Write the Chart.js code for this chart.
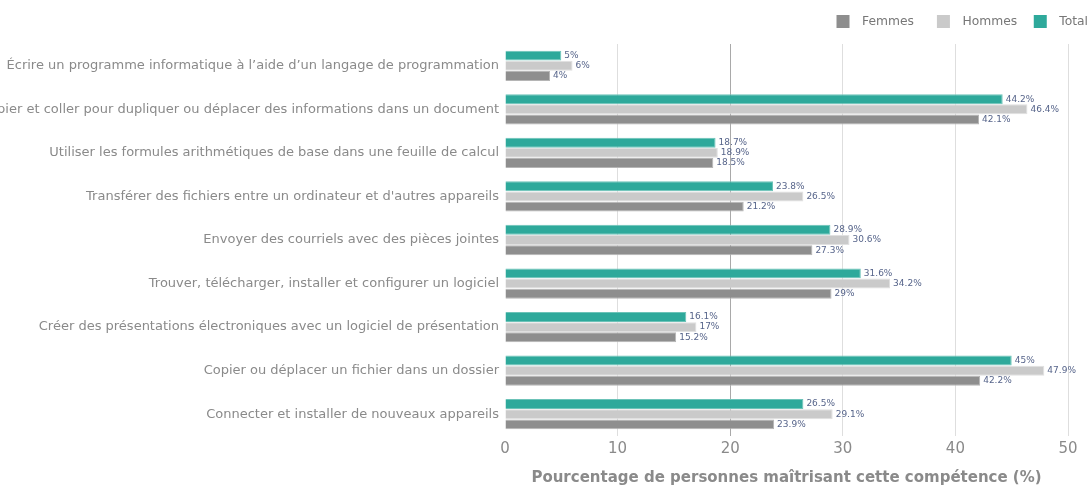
<!DOCTYPE html>
<html>
<head>
<meta charset="utf-8">
<script src="https://cdn.jsdelivr.net/npm/chart.js@4/dist/chart.umd.min.js"></script>
<style>
  html, body { margin: 0; padding: 0; background: #fff; }
  #wrap { width: 1089px; height: 487px; }
</style>
</head>
<body>
<div id="wrap"><canvas id="chart"></canvas></div>
<script>
// compétences (axe des catégories)
const skills = [
  "Écrire un programme informatique à l’aide d’un langage de programmation",
  "Copier et coller pour dupliquer ou déplacer des informations dans un document",
  "Utiliser les formules arithmétiques de base dans une feuille de calcul",
  "Transférer des fichiers entre un ordinateur et d'autres appareils",
  "Envoyer des courriels avec des pièces jointes",
  "Trouver, télécharger, installer et configurer un logiciel",
  "Créer des présentations électroniques avec un logiciel de présentation",
  "Copier ou déplacer un fichier dans un dossier",
  "Connecter et installer de nouveaux appareils"
];

// pourcentages par série
const total  = [5, 44.2, 18.7, 23.8, 28.9, 31.6, 16.1, 45, 26.5];
const hommes = [6, 46.4, 18.9, 26.5, 30.6, 34.2, 17, 47.9, 29.1];
const femmes = [4, 42.1, 18.5, 21.2, 27.3, 29, 15.2, 42.2, 23.9];

const xTicks = [0, 10, 20, 30, 40, 50];

Chart.defaults.font.family = "'DejaVu Sans', Verdana, sans-serif";

// étiquettes de valeur au bout des barres
const valueLabels = {
  id: 'valueLabels',
  afterDatasetsDraw(chart) {
    const ctx = chart.ctx;
    ctx.save();
    ctx.font = "9px 'DejaVu Sans', sans-serif";
    ctx.fillStyle = '#56648a';
    ctx.textBaseline = 'middle';
    ctx.textAlign = 'left';
    chart.data.datasets.forEach((ds, i) => {
      chart.getDatasetMeta(i).data.forEach((bar, j) => {
        ctx.fillText(ds.data[j] + '%', bar.x + 3, bar.y);
      });
    });
    ctx.restore();
  }
};

// un peu d'espace sous la légende
const legendGap = {
  id: 'legendGap',
  beforeInit(chart) {
    const fit = chart.legend.fit;
    chart.legend.fit = function () {
      fit.bind(chart.legend)();
      this.height += 6;
    };
  }
};

// espaces autour des textes de légende
const legendTrail = { Femmes: '     \u2009', Hommes: '    ', Total: '' };

new Chart(document.getElementById('chart'), {
  type: 'bar',
  data: {
    labels: skills,
    datasets: [
      { label: 'Total',  data: total,  backgroundColor: '#2ea99b', borderColor: '#6cc3b8' },
      { label: 'Hommes', data: hommes, backgroundColor: '#cacaca', borderColor: '#e0e0e0' },
      { label: 'Femmes', data: femmes, backgroundColor: '#8e8e8e', borderColor: '#b5b5b5' }
    ]
  },
  options: {
    indexAxis: 'y',
    responsive: true,
    maintainAspectRatio: false,
    animation: false,
    layout: { padding: { top: 14, right: 0, bottom: 0 } },
    datasets: {
      bar: { categoryPercentage: 0.7, barPercentage: 0.98, borderWidth: 1 }
    },
    plugins: {
      legend: {
        position: 'top',
        align: 'end',
        reverse: true,
        labels: {
          boxWidth: 13, boxHeight: 13, padding: 1,
          color: '#777', font: { size: 12.3 },
          generateLabels: chart => Chart.defaults.plugins.legend.labels
            .generateLabels(chart)
            .map(l => ({ ...l, text: ' \u2009' + l.text + legendTrail[l.text], lineWidth: 0 }))
        }
      },
      tooltip: { enabled: false }
    },
    scales: {
      x: {
        min: 0, max: 50,
        afterBuildTicks: s => { s.ticks = xTicks.map(v => ({ value: v })); },
        afterFit: s => { s.paddingRight = 21; },
        border: { display: false },
        grid: {
          color: c => c.tick && c.tick.value === 20 ? '#a9a9a9' : (c.tick && c.tick.value === 0 ? 'rgba(0,0,0,0)' : '#dedede'),
          drawTicks: false
        },
        ticks: { color: '#8a8a8a', font: { size: 15 }, padding: 4 },
        title: {
          display: true,
          text: 'Pourcentage de personnes maîtrisant cette compétence (%)',
          color: '#8a8a8a',
          font: { size: 15, weight: 'bold' },
          padding: { top: 7, bottom: 0 }
        }
      },
      y: {
        afterFit: s => { s.width = 505; },
        border: { display: false },
        grid: { display: false, drawTicks: false },
        ticks: { color: '#8a8a8a', font: { size: 13 }, padding: 6, autoSkip: false }
      }
    }
  },
  plugins: [valueLabels, legendGap]
});
</script>
</body>
</html>
